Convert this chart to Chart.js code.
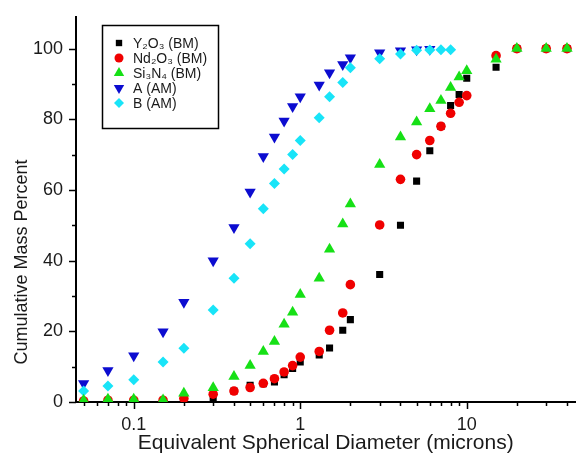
<!DOCTYPE html>
<html>
<head>
<meta charset="utf-8">
<title>Cumulative mass percent</title>
<script src="https://cdn.jsdelivr.net/npm/chart.js@4.4.0/dist/chart.umd.min.js"></script>
<style>
  html, body { margin: 0; padding: 0; background: #fff; }
  #wrap { width: 582px; height: 456px; }
</style>
</head>
<body>
<div id="wrap"><canvas id="chart"></canvas></div>
<script>
/************************ data ************************************************/
const seriesNames = ["Y\u2082O\u2083 (BM)", "Nd\u2082O\u2083 (BM)", "Si\u2083N\u2084 (BM)", "A (AM)", "B (AM)"];

const sizeY2O3 = [0.3, 0.4, 0.5, 0.6, 0.7, 0.8, 0.9, 1, 1.3, 1.5, 1.8, 2, 3, 4, 5, 6, 7, 8, 9, 10, 15, 20, 30, 40];
const massY2O3 = [0.8, 3.1, 4.7, 5.2, 5.7, 7.7, 9.5, 11.3, 13.3, 15.3, 20.3, 23.3, 36.1, 50, 62.5, 71.1, 78, 83.9, 87, 91.6, 94.7, 100, 100, 100];

const sizeBM = [0.05, 0.07, 0.1, 0.15, 0.2, 0.3, 0.4, 0.5, 0.6, 0.7, 0.8, 0.9, 1, 1.3, 1.5, 1.8, 2, 3, 4, 5, 6, 7, 8, 9, 10, 15, 20, 30, 40];
const massNd2O3 = [0.3, 0.5, 0.5, 0.5, 1, 2.2, 3.1, 4.1, 5.3, 6.6, 8.5, 10.3, 12.7, 14.3, 20.3, 25.2, 33.2, 50.1, 63, 70, 74, 78, 81.7, 84.8, 86.7, 98, 100, 100, 100];
const massSi3N4 = [0.5, 0.8, 0.8, 0.6, 2.5, 4, 7.2, 10.3, 14.3, 17.1, 22, 25.4, 30.4, 35, 43.2, 50.4, 56, 67.2, 75, 79.2, 83, 85.3, 89, 92, 93.7, 97, 100, 100, 100];

const sizeA = [0.05, 0.07, 0.1, 0.15, 0.2, 0.3, 0.4, 0.5, 0.6, 0.7, 0.8, 0.9, 1, 1.3, 1.5, 1.8, 2, 3, 4, 5, 6];
const massA = [5.2, 8.9, 13.1, 19.9, 28.2, 40, 49.4, 59.4, 69.5, 75, 79.5, 83.6, 86.4, 89.7, 93.2, 95.5, 97.4, 98.8, 99.4, 99.7, 99.8];

const sizeB = [0.05, 0.07, 0.1, 0.15, 0.2, 0.3, 0.4, 0.5, 0.6, 0.7, 0.8, 0.9, 1, 1.3, 1.5, 1.8, 2, 3, 4, 5, 6, 7, 8];
const massB = [3.1, 4.5, 6.3, 11.3, 15.2, 26, 35, 44.8, 54.7, 61.8, 65.9, 70, 74, 80.4, 86.4, 90.4, 94.6, 97.1, 98.5, 99.5, 99.6, 99.7, 99.7];

// axis ticks
const xTicks = [0.05, 0.06, 0.07, 0.08, 0.09, 0.1, 0.2, 0.3, 0.4, 0.5, 0.6, 0.7, 0.8, 0.9,
                1, 2, 3, 4, 5, 6, 7, 8, 9, 10, 20, 30, 40];
const xLabelled = [0.1, 1, 10];
const yTicks = [0, 10, 20, 30, 40, 50, 60, 70, 80, 90, 100];
const yLabelled = [0, 20, 40, 60, 80, 100];

const xTitle = "Equivalent Spherical Diameter (microns)";
const yTitle = "Cumulative Mass Percent";

/************************ helpers *********************************************/
function toPoints(xs, ys) {
  return xs.map((x, i) => ({ x: x, y: ys[i] }));
}

function isLabelled(list, v) {
  return list.some(t => Math.abs(t - v) < 1e-9 * Math.max(1, t));
}

const FONT = "'Liberation Sans', Arial, sans-serif";
Chart.defaults.font.family = FONT;
Chart.defaults.color = "#1a1a1a";

// short/long tick marks drawn on the library scales
const tickMarks = {
  id: "tickMarks",
  afterDraw(chart) {
    const ctx = chart.ctx;
    const xs = chart.scales.x, ys = chart.scales.y;
    ctx.save();
    ctx.strokeStyle = "#000";
    ctx.lineWidth = 1.5;
    ctx.beginPath();
    xTicks.forEach(v => {
      const px = Math.round(xs.getPixelForValue(v)) + 0.5;
      const len = isLabelled(xLabelled, v) ? 7 : 4;
      ctx.moveTo(px, xs.top);
      ctx.lineTo(px, xs.top + len);
    });
    yTicks.forEach(v => {
      const py = Math.round(ys.getPixelForValue(v)) + 0.5;
      const len = isLabelled(yLabelled, v) ? 7 : 4;
      ctx.moveTo(ys.right, py);
      ctx.lineTo(ys.right - len, py);
    });
    ctx.stroke();

    // y title sits a bit below the middle of the axis in the original
    ctx.translate(22, 262);
    ctx.rotate(-Math.PI / 2);
    ctx.font = "18px " + FONT;
    ctx.fillStyle = "#1a1a1a";
    ctx.textAlign = "center";
    ctx.textBaseline = "middle";
    ctx.fillText(yTitle, 0, 0);
    ctx.restore();
  }
};

// boxed legend in the upper left corner of the plot
const boxLegend = {
  id: "boxLegend",
  afterDraw(chart) {
    const ctx = chart.ctx;
    const left = 102, top = 25, w = 116, h = 103;
    ctx.save();
    ctx.strokeStyle = "#000";
    ctx.lineWidth = 1.5;
    ctx.strokeRect(left + 0.5, top + 0.5, w, h);
    ctx.font = "14px " + FONT;
    ctx.textBaseline = "middle";
    ctx.textAlign = "left";
    chart.data.datasets.forEach((ds, i) => {
      const cy = top + 18 + i * 15;
      ctx.fillStyle = ds.backgroundColor;
      ctx.strokeStyle = ds.backgroundColor;
      Chart.helpers.drawPoint(ctx, {
        pointStyle: ds.pointStyle,
        rotation: ds.rotation || 0,
        radius: ds.legendRadius,
        borderWidth: 0
      }, left + 17, cy);
      ctx.fillStyle = "#1a1a1a";
      ctx.fillText(ds.label, left + 31, cy + 1);
    });
    ctx.restore();
  }
};

/************************ chart ***********************************************/
const ctx = document.getElementById("chart").getContext("2d");
const myChart = new Chart(ctx, {
  type: "scatter",
  data: {
    datasets: [
      { label: seriesNames[0], data: toPoints(sizeY2O3, massY2O3), pointStyle: "rect",
        pointRadius: 5, legendRadius: 4.5, backgroundColor: "#000000", borderWidth: 0, order: 4 },
      { label: seriesNames[1], data: toPoints(sizeBM, massNd2O3), pointStyle: "circle",
        pointRadius: 4.8, legendRadius: 4.5, backgroundColor: "#f00000", borderWidth: 0, order: 3 },
      { label: seriesNames[2], data: toPoints(sizeBM, massSi3N4), pointStyle: "triangle",
        pointRadius: 6.5, legendRadius: 6, backgroundColor: "#16e016", borderWidth: 0, order: 0 },
      { label: seriesNames[3], data: toPoints(sizeA, massA), pointStyle: "triangle", rotation: 180,
        pointRadius: 6.5, legendRadius: 6, backgroundColor: "#0c0cd0", borderWidth: 0, order: 2 },
      { label: seriesNames[4], data: toPoints(sizeB, massB), pointStyle: "rectRot",
        pointRadius: 5.5, legendRadius: 5, backgroundColor: "#18e4f8", borderWidth: 0, order: 1 }
    ]
  },
  options: {
    responsive: true,
    maintainAspectRatio: false,
    animation: false,
    layout: { padding: { top: 12, right: 2, left: 0, bottom: 0 } },
    plugins: {
      legend: { display: false },
      tooltip: { enabled: false }
    },
    scales: {
      x: {
        type: "logarithmic",
        min: 0.045,
        max: 45,
        afterBuildTicks(scale) { scale.ticks = xTicks.map(v => ({ value: v })); },
        afterFit(scale) { scale.height = 54; },
        grid: { display: true, drawOnChartArea: false, drawTicks: true, tickLength: 7, color: "transparent" },
        border: { display: true, color: "#000", width: 2 },
        ticks: {
          autoSkip: false,
          maxRotation: 0,
          padding: 5,
          font: { size: 18 },
          callback: (v) => isLabelled(xLabelled, v) ? String(v) : ""
        },
        title: {
          display: true,
          text: xTitle,
          font: { size: 21 },
          padding: { top: 0, bottom: 0 }
        }
      },
      y: {
        type: "linear",
        min: 0,
        max: 109,
        afterBuildTicks(scale) { scale.ticks = yTicks.map(v => ({ value: v })); },
        afterFit(scale) { scale.width = 76; },
        grid: { display: true, drawOnChartArea: false, drawTicks: true, tickLength: 7, color: "transparent" },
        border: { display: true, color: "#000", width: 2 },
        ticks: {
          autoSkip: false,
          padding: 6,
          font: { size: 18 },
          callback: (v) => isLabelled(yLabelled, v) ? String(v) : ""
        },
        title: { display: false }
      }
    }
  },
  plugins: [tickMarks, boxLegend]
});
</script>
</body>
</html>
